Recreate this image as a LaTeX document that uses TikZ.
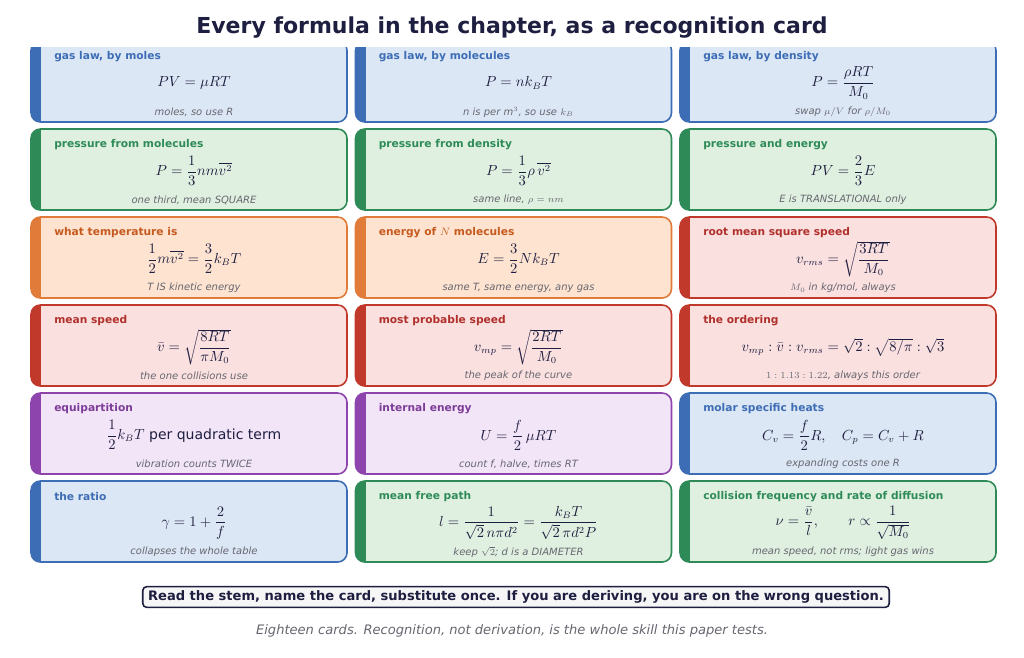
\documentclass[tikz,border=0pt]{standalone}
\usepackage{amsmath}
\usepackage{fontspec}
\setmainfont{DejaVu Sans}
\usetikzlibrary{positioning}
\definecolor{cblue}{HTML}{3D6DB5}\definecolor{fblue}{HTML}{DCE7F5}\definecolor{tblue}{HTML}{3D6DB5}
\definecolor{cgreen}{HTML}{2E8B57}\definecolor{fgreen}{HTML}{E0F0E0}\definecolor{tgreen}{HTML}{2E8B57}
\definecolor{corange}{HTML}{E07B39}\definecolor{forange}{HTML}{FDE3D0}\definecolor{torange}{HTML}{C65A1E}
\definecolor{cred}{HTML}{C0392B}\definecolor{fred}{HTML}{FBE0E0}\definecolor{tred}{HTML}{B0302B}
\definecolor{cpurple}{HTML}{8E44AD}\definecolor{fpurple}{HTML}{F3E5F8}\definecolor{tpurple}{HTML}{7D3C98}
\definecolor{navy}{HTML}{1E1E40}\definecolor{note}{HTML}{666670}
% card: name, column, row, colour, title, formula, note
\newcommand\card[7]{%
  \pgfmathsetmacro\cx{31+324.5*#2}\pgfmathsetmacro\cy{41+88*#3}
  \fill[f#4,draw=c#4,line width=1.2pt,rounded corners=7] (\cx,\cy) rectangle ++(316,81);
  \begin{scope}
    \clip[rounded corners=7] (\cx,\cy) rectangle ++(316,81);
    \fill[c#4] (\cx,\cy) rectangle ++(10,81);
  \end{scope}
  \node[cardtitle,text=t#4] (#1t) at (\cx+23,\cy+16) {#5};
  \node[formula] (#1f) at (\cx+163,\cy+42) {#6};
  \node[cardnote] (#1n) at (\cx+163,\cy+71) {#7};}
\tikzset{cardtitle/.style={anchor=west,inner sep=0,font=\bfseries\fontsize{8}{9}\selectfont},
  formula/.style={inner sep=0,text=navy,font=\fontsize{10.5}{12}\selectfont},
  cardnote/.style={inner sep=0,text=note,font=\itshape\fontsize{7.5}{9}\selectfont}}
\begin{document}
\begin{tikzpicture}[x=0.75pt,y=-0.75pt]
\useasboundingbox (0,0) rectangle (1024,657);
\card{a}{0}{0}{blue}{gas law, by moles}{$PV=\mu RT$}{moles, so use R}
\card{b}{1}{0}{blue}{gas law, by molecules}{$P=nk_BT$}{n is per m$^3$, so use $k_B$}
\card{c}{2}{0}{blue}{gas law, by density}{$P=\dfrac{\rho RT}{M_0}$}{swap $\mu/V$ for $\rho/M_0$}
\card{d}{0}{1}{green}{pressure from molecules}{$P=\dfrac13 nm\overline{v^2}$}{one third, mean SQUARE}
\card{e}{1}{1}{green}{pressure from density}{$P=\dfrac13\rho\,\overline{v^2}$}{same line, $\rho=nm$}
\card{f}{2}{1}{green}{pressure and energy}{$PV=\dfrac23E$}{E is TRANSLATIONAL only}
\card{g}{0}{2}{orange}{what temperature is}{$\dfrac12 m\overline{v^2}=\dfrac32k_BT$}{T IS kinetic energy}
\card{h}{1}{2}{orange}{energy of $N$ molecules}{$E=\dfrac32Nk_BT$}{same T, same energy, any gas}
\card{i}{2}{2}{red}{root mean square speed}{$v_{rms}=\sqrt{\dfrac{3RT}{M_0}}$}{$M_0$ in kg/mol, always}
\card{j}{0}{3}{red}{mean speed}{$\bar v=\sqrt{\dfrac{8RT}{\pi M_0}}$}{the one collisions use}
\card{k}{1}{3}{red}{most probable speed}{$v_{mp}=\sqrt{\dfrac{2RT}{M_0}}$}{the peak of the curve}
\card{l}{2}{3}{red}{the ordering}{$v_{mp}:\bar v:v_{rms}=\sqrt2:\sqrt{8/\pi}:\sqrt3$}{$1:1.13:1.22$, always this order}
\card{m}{0}{4}{purple}{equipartition}{$\dfrac12k_BT$ per quadratic term}{vibration counts TWICE}
\card{n}{1}{4}{purple}{internal energy}{$U=\dfrac f2\,\mu RT$}{count f, halve, times RT}
\card{o}{2}{4}{blue}{molar specific heats}{$C_v=\dfrac f2R,\quad C_p=C_v+R$}{expanding costs one R}
\card{p}{0}{5}{blue}{the ratio}{$\gamma=1+\dfrac2f$}{collapses the whole table}
\card{q}{1}{5}{green}{mean free path}{$l=\dfrac{1}{\sqrt2\,n\pi d^2}=\dfrac{k_BT}{\sqrt2\,\pi d^2P}$}{keep $\sqrt2$; d is a DIAMETER}
\card{r}{2}{5}{green}{collision frequency and rate of diffusion}{$\nu=\dfrac{\bar v}{l},\qquad r\propto\dfrac{1}{\sqrt{M_0}}$}{mean speed, not rms; light gas wins}
\fill[white] (0,0) rectangle (1024,47);
\node[text=navy,font=\bfseries\fontsize{16.5}{19}\selectfont] (title) at (512,28) {Every formula in the chapter, as a recognition card};
\node[draw=navy,fill=navy!4,line width=1.2pt,rounded corners=3,inner xsep=4pt,inner ysep=3pt,text=navy,
  font=\bfseries\fontsize{9.8}{11}\selectfont] (rule) at (516,597)
  {Read the stem, name the card, substitute once. If you are deriving, you are on the wrong question.};
\node[text=note,font=\itshape\fontsize{9.8}{11}\selectfont] (foot) at (512,631)
  {Eighteen cards. Recognition, not derivation, is the whole skill this paper tests.};
\end{tikzpicture}
\end{document}
